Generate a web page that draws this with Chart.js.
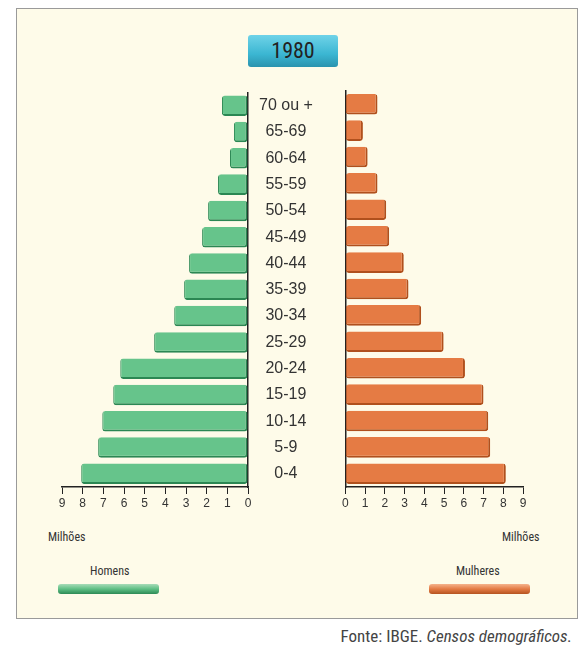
<!DOCTYPE html>
<html>
<head>
<meta charset="utf-8">
<script src="https://cdn.jsdelivr.net/npm/chart.js@4"></script>
<style>
  body { margin: 0; background: #fff; width: 580px; height: 658px; position: relative;
         font-family: "Liberation Sans Narrow", "Roboto Condensed", "Liberation Sans", sans-serif; color: #333; }
  .quadro { position: absolute; left: 16px; top: 8px; width: 560px; height: 609px;
            background: #fefbe9; border: 1px solid #9a9a9a; }
  .abs { position: absolute; }
  #ano { left: 248px; top: 35px; width: 90px; height: 32px; background: linear-gradient(#6fd3e8, #3bb6d2 60%, #2a93ae);
         border-radius: 3px; font-size: 22px; line-height: 32px; text-align: center; color: #222; }
  .leg { height: 10px; border-radius: 3px; }
  .txt { font-size: 12px; }
</style>
</head>
<body>
<div class="quadro"></div>
<div class="abs" id="ano">1980</div>
<canvas id="homens" class="abs" style="left:40px;top:80px"></canvas>
<canvas id="mulheres" class="abs" style="left:340px;top:80px"></canvas>
<div class="abs txt" style="left:48px;top:530px">Milhões</div>
<div class="abs txt" style="left:502px;top:530px">Milhões</div>
<div class="abs txt" style="left:90px;top:564px">Homens</div>
<div class="abs txt" style="left:456px;top:564px">Mulheres</div>
<div class="abs leg" style="left:58px;top:584px;width:101px;background:linear-gradient(#a8dcb8,#5fbf85 50%,#2d8a55)"></div>
<div class="abs leg" style="left:429px;top:584px;width:101px;background:linear-gradient(#f5b38c,#e47b45 50%,#b5531f)"></div>
<div class="abs" style="right:8px;top:626px;font-size:17px;color:#444">Fonte: IBGE. <i>Censos demográficos.</i></div>
<script>
// faixas etárias (de cima para baixo)
const faixas = ['70 ou +', '65-69', '60-64', '55-59', '50-54', '45-49', '40-44', '35-39',
                '30-34', '25-29', '20-24', '15-19', '10-14', '5-9', '0-4'];
// população em milhões
const homens = [1.26, 0.68, 0.87, 1.45, 1.93, 2.22, 2.85, 3.09, 3.57, 4.54, 6.18, 6.52, 7.05, 7.25, 8.07];
const mulheres = [1.63, 0.89, 1.13, 1.63, 2.07, 2.22, 2.96, 3.2, 3.84, 4.98, 6.06, 7.0, 7.24, 7.34, 8.13];
const ticksX = [0, 1, 2, 3, 4, 5, 6, 7, 8, 9];

const fonte = "'Liberation Sans Narrow', 'Liberation Sans', sans-serif";

function gradiente(ctx, claro, meio, escuro) {
    const el = ctx.element;
    if (!ctx.chart.chartArea || !el) return meio;
    const h = el.height;
    if (!isFinite(el.y) || !isFinite(h) || h <= 0) return meio;
    const g = ctx.chart.ctx.createLinearGradient(0, el.y - h / 2, 0, el.y + h / 2);
    g.addColorStop(0, claro);
    g.addColorStop(0.45, meio);
    g.addColorStop(1, escuro);
    return g;
}

function criaGrafico(id, dados, cores, esquerda) {
    const canvas = document.getElementById(id);
    canvas.width = esquerda ? 300 : 203;
    canvas.height = 437;
    canvas.style.width = canvas.width + 'px';
    canvas.style.height = canvas.height + 'px';
    return new Chart(canvas, {
        type: 'bar',
        data: {
            labels: faixas,
            datasets: [{
                data: dados,
                backgroundColor: c => gradiente(c, cores[0], cores[1], cores[2]),
                borderColor: cores[2],
                borderWidth: { top: 0, bottom: 2, left: 1, right: 2 },
                borderSkipped: false,
                borderRadius: 3,
                barPercentage: 0.78,
                categoryPercentage: 1
            }]
        },
        options: {
            indexAxis: 'y',
            responsive: false,
            animation: false,
            layout: { padding: esquerda ? { left: 22, top: 11 } : { right: 20, top: 11 } },
            plugins: { legend: { display: false }, tooltip: { enabled: false } },
            scales: {
                x: {
                    min: 0, max: 9, reverse: esquerda,
                    afterBuildTicks: ax => { ax.ticks = ticksX.map(v => ({ value: v })); },
                    afterFit: ax => { ax.height = 30; },
                    grid: { drawOnChartArea: false, color: '#222', tickLength: 7 },
                    border: { color: '#222', width: 1.5 },
                    ticks: { color: '#333', font: { family: fonte, size: 12 }, padding: 2 }
                },
                y: {
                    position: esquerda ? 'right' : 'left',
                    afterFit: ax => { ax.width = esquerda ? 92 : 0; },
                    grid: { display: false },
                    border: { color: '#222', width: 1.5 },
                    ticks: {
                        display: esquerda,
                        crossAlign: 'center',
                        color: '#333',
                        font: { family: fonte, size: 16 }
                    }
                }
            }
        }
    });
}

criaGrafico('homens', homens, ['#a6dbb6', '#66c48b', '#2b8753'], true);
criaGrafico('mulheres', mulheres, ['#f4ae86', '#e57b44', '#b0501d'], false);
</script>
</body>
</html>
